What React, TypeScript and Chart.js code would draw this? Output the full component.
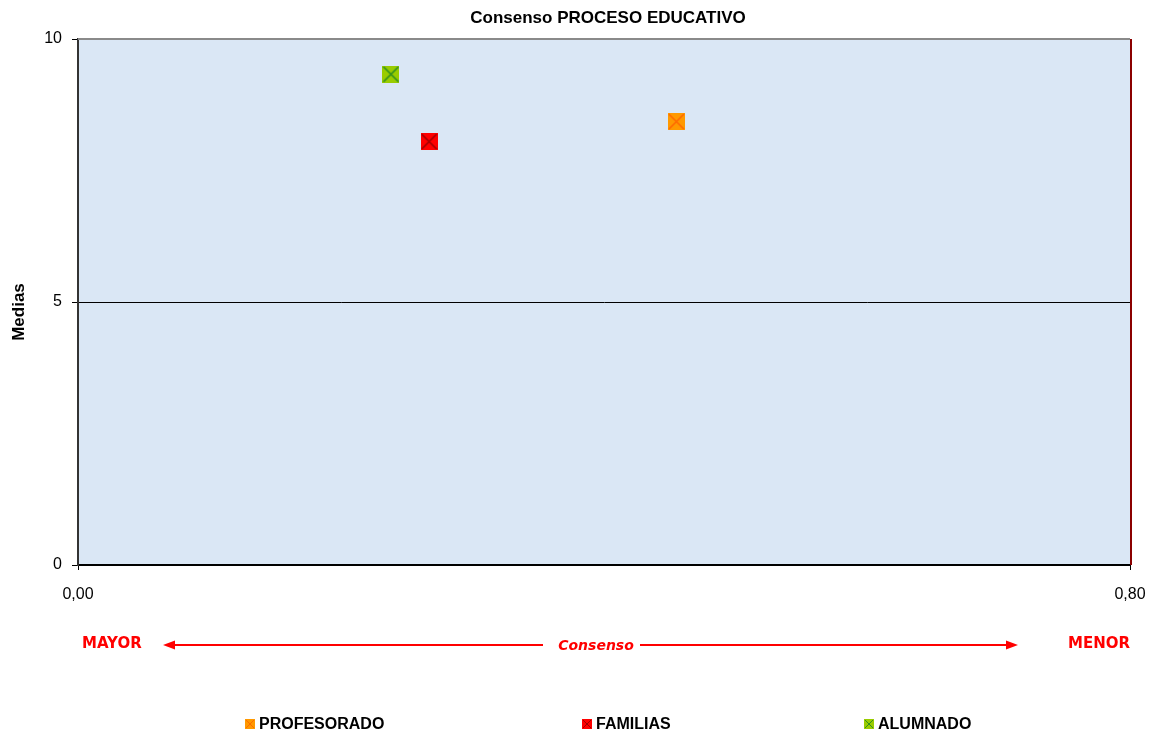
import React, { useEffect, useRef } from "react";
import { Chart, registerables } from "chart.js";

Chart.register(...registerables);

const seriesNames = ["PROFESORADO", "FAMILIAS", "ALUMNADO"];
const consensoValues = [0.455, 0.267, 0.238];
const mediaValues = [8.43, 8.05, 9.33];
const fillColors = ["#ff9900", "#ff0000", "#99cc00"];
const crossColors = ["#ff6a00", "#a00000", "#2f8f1f"];
const yTicks = [0, 5, 10];
const xTicks = [0, 0.8];
const chartTitle = "Consenso PROCESO EDUCATIVO";
const yTitle = "Medias";
const leftLabel = "MAYOR";
const centerLabel = "Consenso";
const rightLabel = "MENOR";

const FONT = "'Liberation Sans', Arial, sans-serif";
const RED_FONT = "'DejaVu Sans', 'Comic Sans MS', sans-serif";

function makeMarker(size: number, fill: string, cross: string): HTMLCanvasElement {
  const c = document.createElement("canvas");
  c.width = size;
  c.height = size;
  const g = c.getContext("2d")!;
  g.fillStyle = fill;
  g.fillRect(0, 0, size, size);
  g.strokeStyle = cross;
  g.lineWidth = size > 12 ? 1.6 : 1;
  g.beginPath();
  g.moveTo(1, 1);
  g.lineTo(size - 1, size - 1);
  g.moveTo(size - 1, 1);
  g.lineTo(1, size - 1);
  g.stroke();
  return c;
}

export default function App() {
  const ref = useRef<HTMLCanvasElement | null>(null);

  useEffect(() => {
    const canvas = ref.current;
    if (!canvas) return;
    document.body.style.margin = "0";
    document.body.style.background = "#ffffff";

    const bigMarkers = seriesNames.map((_, i) => makeMarker(17, fillColors[i], crossColors[i]));
    const smallMarkers = seriesNames.map((_, i) => makeMarker(10, fillColors[i], crossColors[i]));

    const decor = {
      id: "decor",
      beforeDraw(chart: any) {
        const { ctx, chartArea } = chart;
        ctx.save();
        ctx.fillStyle = "#ffffff";
        ctx.fillRect(0, 0, chart.width, chart.height);
        ctx.fillStyle = "#dae7f5";
        ctx.fillRect(chartArea.left, chartArea.top, chartArea.right - chartArea.left, chartArea.bottom - chartArea.top);
        ctx.restore();
      },
      afterDraw(chart: any) {
        const { ctx, chartArea } = chart;
        ctx.save();
        // top and right borders
        ctx.lineWidth = 2;
        ctx.strokeStyle = "#8a8a8a";
        ctx.beginPath();
        ctx.moveTo(chartArea.left, chartArea.top);
        ctx.lineTo(chartArea.right, chartArea.top);
        ctx.stroke();
        ctx.strokeStyle = "#8b0000";
        ctx.beginPath();
        ctx.moveTo(chartArea.right + 1, chartArea.top);
        ctx.lineTo(chartArea.right + 1, chartArea.bottom);
        ctx.stroke();

        // title
        ctx.fillStyle = "#000";
        ctx.font = `bold 17px ${FONT}`;
        ctx.textAlign = "center";
        ctx.textBaseline = "middle";
        ctx.fillText(chartTitle, 608, 18);

        // y title
        ctx.save();
        ctx.translate(19, 312);
        ctx.rotate(-Math.PI / 2);
        ctx.font = `bold 17px ${FONT}`;
        ctx.fillText(yTitle, 0, 0);
        ctx.restore();

        // consenso arrow
        const ay = 645;
        ctx.strokeStyle = "#ff0000";
        ctx.fillStyle = "#ff0000";
        ctx.lineWidth = 2;
        ctx.beginPath();
        ctx.moveTo(170, ay);
        ctx.lineTo(543, ay);
        ctx.moveTo(640, ay);
        ctx.lineTo(1010, ay);
        ctx.stroke();
        ctx.beginPath();
        ctx.moveTo(163, ay);
        ctx.lineTo(175, ay - 4.5);
        ctx.lineTo(175, ay + 4.5);
        ctx.closePath();
        ctx.fill();
        ctx.beginPath();
        ctx.moveTo(1018, ay);
        ctx.lineTo(1006, ay - 4.5);
        ctx.lineTo(1006, ay + 4.5);
        ctx.closePath();
        ctx.fill();

        ctx.textBaseline = "middle";
        ctx.font = `bold 15px ${RED_FONT}`;
        ctx.textAlign = "left";
        ctx.fillText(leftLabel, 82, 644);
        ctx.textAlign = "right";
        ctx.fillText(rightLabel, 1130, 644);
        ctx.textAlign = "center";
        ctx.font = `italic bold 14px ${RED_FONT}`;
        ctx.fillText(centerLabel, 596, 646);

        // legend
        const legendX = [245, 582, 864];
        ctx.font = `bold 16px ${FONT}`;
        ctx.textAlign = "left";
        ctx.fillStyle = "#000";
        seriesNames.forEach((name, i) => {
          ctx.drawImage(smallMarkers[i], legendX[i], 719);
          ctx.fillText(name, legendX[i] + 14, 725);
        });
        ctx.restore();
      },
    };

    const chart = new Chart(canvas, {
      type: "scatter",
      data: {
        datasets: seriesNames.map((name, i) => ({
          label: name,
          data: [{ x: consensoValues[i], y: mediaValues[i] }],
          pointStyle: bigMarkers[i] as any,
          backgroundColor: fillColors[i],
          borderColor: crossColors[i],
          pointRadius: 9,
        })),
      },
      options: {
        responsive: false,
        animation: false,
        layout: { autoPadding: false, padding: { top: 39, right: 24, bottom: 132, left: 0 } },
        plugins: {
          legend: { display: false },
          title: { display: false },
          tooltip: { enabled: false },
        },
        scales: {
          x: {
            type: "linear",
            min: xTicks[0],
            max: xTicks[xTicks.length - 1],
            afterBuildTicks: (scale: any) => {
              scale.ticks = xTicks.map((v) => ({ value: v }));
            },
            afterFit: (scale: any) => {
              scale.height = 40;
              scale.paddingLeft = 0;
              scale.paddingRight = 0;
            },
            ticks: {
              color: "#000",
              font: { family: FONT, size: 16 },
              padding: 15,
              maxRotation: 0,
              autoSkip: false,
              callback: (v: any) => Number(v).toFixed(2).replace(".", ","),
            },
            grid: {
              drawOnChartArea: false,
              color: "#000",
              tickColor: "#000",
              tickLength: 5,
            },
            border: { display: true, color: "#000", width: 2 },
          },
          y: {
            type: "linear",
            min: yTicks[0],
            max: yTicks[yTicks.length - 1],
            afterBuildTicks: (scale: any) => {
              scale.ticks = yTicks.map((v) => ({ value: v }));
            },
            afterFit: (scale: any) => {
              scale.width = 78;
              scale.paddingTop = 0;
              scale.paddingBottom = 0;
            },
            ticks: {
              color: "#000",
              font: { family: FONT, size: 16 },
              padding: 10,
            },
            grid: {
              color: (c: any) => (c.tick && c.tick.value === 5 ? "#000" : "rgba(0,0,0,0)"),
              tickColor: "#000",
              tickLength: 6,
            },
            border: { display: true, color: "#333", width: 2 },
          },
        },
      },
      plugins: [decor],
    });

    return () => chart.destroy();
  }, []);

  return (
    <div style={{ position: "fixed", left: 0, top: 0, width: 1154, height: 737 }}>
      <canvas ref={ref} width={1154} height={737} />
    </div>
  );
}
